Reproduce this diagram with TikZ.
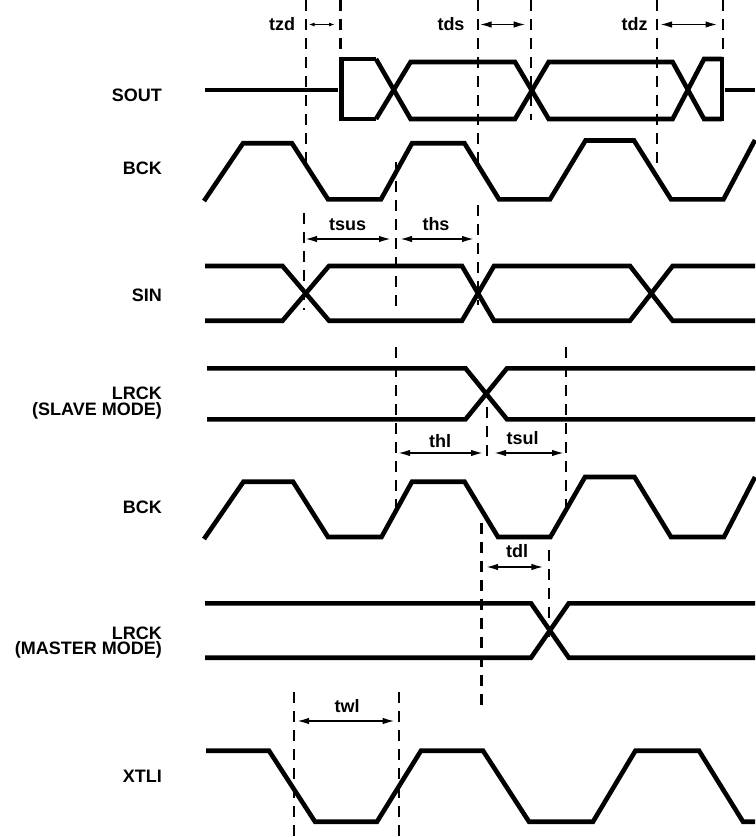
\documentclass[tikz,border=0pt]{standalone}
\usepackage{fontspec}
\setmainfont{Liberation Sans}
\usetikzlibrary{arrows.meta}
\begin{document}
\begin{tikzpicture}[x=1pt,y=-1pt,
  sig/.style={line width=4.6pt, line join=miter},
  dsh/.style={line width=2.2pt, dash pattern=on 11pt off 8pt},
  dim/.style={line width=1.7pt, {Latex[length=12pt,width=6.5pt]}-{Latex[length=12pt,width=6.5pt]}},
  dimsmall/.style={line width=1.5pt, {Latex[length=6pt,width=4pt]}-{Latex[length=6pt,width=4pt]}},
  lbl/.style={font=\fontsize{18}{13}\selectfont\bfseries, anchor=base east, inner sep=0pt},
  tlbl/.style={font=\fontsize{18}{13}\selectfont\bfseries, anchor=base, inner sep=0pt}]
\path[use as bounding box] (0,0) rectangle (755,837);

% ---- signal labels ----
\node[lbl] (lsout) at (162,102) {SOUT};
\node[lbl] (lbck1) at (162,175) {BCK};
\node[lbl] (lsin) at (162,301) {SIN};
\node[lbl] (llrs1) at (162,399.5) {LRCK};
\node[lbl] (llrs2) at (162,415) {(SLAVE MODE)};
\node[lbl] (lbck2) at (162,513) {BCK};
\node[lbl] (llrm1) at (162,639) {LRCK};
\node[lbl] (llrm2) at (162,654.5) {(MASTER MODE)};
\node[lbl] (lxtli) at (162,782) {XTLI};

% ---- dashed guide lines ----
\draw[dsh] (306,0) -- (306,165);
\draw[dsh] (340.5,0) -- (340.5,50);
\draw[dsh] (478,0) -- (478,165);
\draw[dsh] (531,0) -- (531,120);
\draw[dsh] (657,0) -- (657,168);
\draw[dsh] (723,0) -- (723,56);
\draw[dsh] (304,213) -- (304,310);
\draw[dsh] (396,162) -- (396,310);
\draw[dsh] (478,205) -- (478,305);
\draw[dsh] (396,347) -- (396,510);
\draw[dsh] (486.7,407) -- (486.7,457);
\draw[dsh] (565.7,347) -- (565.7,510);
\draw[dsh] (481.4,523) -- (481.4,707);
\draw[dsh] (548.7,550) -- (548.7,642);
\draw[dsh] (293.8,692) -- (293.8,837);
\draw[dsh] (399,692) -- (399,837);

% ---- timing labels and dimension arrows ----
\node[tlbl] (ttzd) at (282,30.5) {tzd};
\node[tlbl] (ttds) at (451,30.5) {tds};
\node[tlbl] (ttdz) at (634.6,30.5) {tdz};
\coordinate (tzdA) at (308.5,24.5); \coordinate (tzdB) at (335,24.5);
\coordinate (tdsA) at (479.6,24.5); \coordinate (tdsB) at (525.7,24.5);
\coordinate (tdzA) at (660,24.5); \coordinate (tdzB) at (717.5,24.5);
\draw[dimsmall] (tzdA) -- (tzdB);
\draw[dim] (tdsA) -- (tdsB);
\draw[dim] (tdzA) -- (tdzB);

\node[tlbl] (ttsus) at (347.6,230) {tsus};
\node[tlbl] (tths) at (436,230) {ths};
\coordinate (tsusA) at (305,239); \coordinate (tsusB) at (391,239);
\coordinate (thsA) at (400,239); \coordinate (thsB) at (474,239);
\draw[dim] (tsusA) -- (tsusB);
\draw[dim] (thsA) -- (thsB);

\node[tlbl] (tthl) at (440,447) {thl};
\node[tlbl] (ttsul) at (522.6,444) {tsul};
\coordinate (thlA) at (398,453); \coordinate (thlB) at (483,453);
\coordinate (tsulA) at (494,453); \coordinate (tsulB) at (564,453);
\draw[dim] (thlA) -- (thlB);
\draw[dim] (tsulA) -- (tsulB);

\node[tlbl] (ttdl) at (517,557) {tdl};
\coordinate (tdlA) at (486,567); \coordinate (tdlB) at (543.4,567);
\draw[dim] (tdlA) -- (tdlB);

\node[tlbl] (ttwl) at (347,712) {twl};
\coordinate (twlA) at (297,721); \coordinate (twlB) at (394.7,721);
\draw[dim] (twlA) -- (twlB);

% ---- SOUT ----
\draw[sig] (205,90) -- (338,90);
\draw[sig] (376,59) -- (341.6,59) -- (341.6,119) -- (376,119);
\draw[sig] (376,59) -- (410.6,119) -- (515,119) -- (548.7,62) -- (672.6,62) -- (704,119) -- (722,119);
\draw[sig] (376,119) -- (410.6,62) -- (515,62) -- (548.7,119) -- (672.6,119) -- (704,59) -- (722,59);
\draw[sig] (722,56.7) -- (722,121.3);
\draw[sig] (725,90) -- (755,90);

% ---- BCK (upper) ----
\draw[sig] (204,201) -- (243,143.3) -- (292,143.3) -- (328,199.3) -- (381,199.3) -- (412,143.3)
  -- (464.5,143.3) -- (499,199.3) -- (550,199.3) -- (585.5,140.5) -- (634,140.5) -- (671,199.3)
  -- (723.5,199.3) -- (755,140);

% ---- SIN ----
\draw[sig] (205,266) -- (282.5,266) -- (329,320.7) -- (462,320.7) -- (494,266) -- (630,266) -- (672.6,320.7) -- (755,320.7);
\draw[sig] (205,320.7) -- (282.5,320.7) -- (329,266) -- (462,266) -- (494,320.7) -- (630,320.7) -- (672.6,266) -- (755,266);

% ---- LRCK (slave) ----
\draw[sig] (207,368.3) -- (465.5,368.3) -- (507,419.3) -- (755,419.3);
\draw[sig] (207,419.3) -- (465.5,419.3) -- (507,368.3) -- (755,368.3);

% ---- BCK (lower) ----
\draw[sig] (204,539) -- (243.5,481.7) -- (293,481.7) -- (328,537) -- (381.5,537) -- (412,481.7)
  -- (464.5,481.7) -- (498,537) -- (550.4,537) -- (585,477) -- (634.5,477) -- (671,537)
  -- (724,537) -- (755,477);

% ---- LRCK (master) ----
\draw[sig] (205,603.3) -- (531,603.3) -- (568.8,657.7) -- (755,657.7);
\draw[sig] (205,657.7) -- (531,657.7) -- (568.8,603.3) -- (755,603.3);

% ---- XTLI ----
\draw[sig] (206,750.7) -- (269,750.7) -- (315,821.7) -- (377,821.7) -- (421,750.7) -- (483,750.7)
  -- (529,821.7) -- (593,821.7) -- (635.4,750.7) -- (699,750.7) -- (743,821.7) -- (755,821.7);
\end{tikzpicture}
\end{document}
